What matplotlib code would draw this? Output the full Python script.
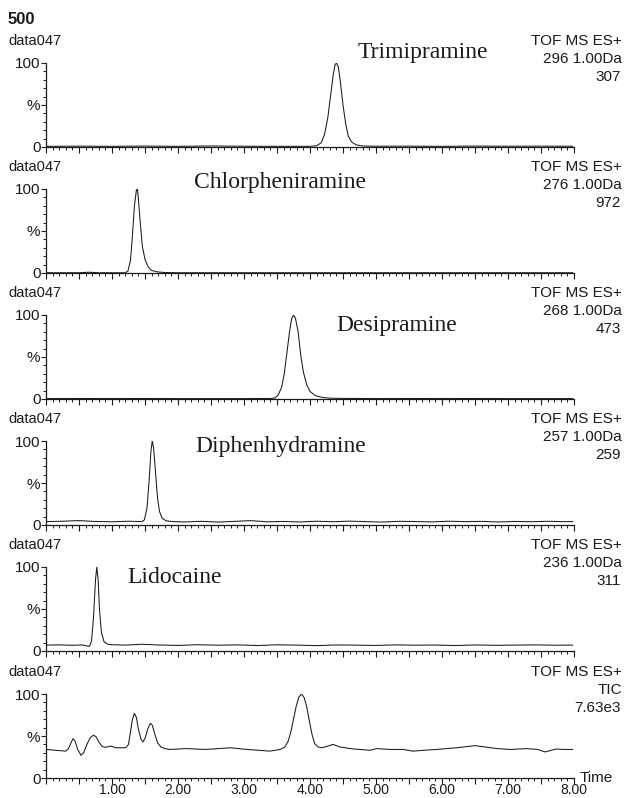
import matplotlib
matplotlib.use("Agg")
import matplotlib.pyplot as plt
from matplotlib.ticker import MultipleLocator, FixedLocator, FuncFormatter

W, H = 627, 798

# retention time (min) / relative intensity (%) for each trace
t_trimip = [0.0, 0.5, 1.0, 1.5, 2.0, 2.5, 3.0, 3.5, 4.0, 4.10, 4.17, 4.22, 4.27, 4.31, 4.35,
            4.38, 4.40, 4.43, 4.46, 4.50, 4.54, 4.58, 4.63, 4.70, 4.80, 5.0, 5.5, 6.0, 6.5,
            7.0, 7.5, 7.98]
i_trimip = [0.8, 1.0, 0.8, 1.1, 0.8, 1.2, 0.9, 0.8, 0.8, 1.5, 5, 15, 35, 60, 85,
            98, 100, 95, 78, 50, 28, 13, 6, 2.5, 1.2, 0.9, 1.0, 0.8, 1.1,
            0.9, 1.0, 0.9]

t_chlor = [0.0, 0.5, 0.65, 0.8, 1.0, 1.2, 1.24, 1.28, 1.31, 1.34, 1.37, 1.385, 1.40, 1.43,
           1.46, 1.50, 1.55, 1.60, 1.70, 1.80, 2.0, 3.0, 4.0, 5.0, 6.0, 7.0, 7.98]
i_chlor = [0.3, 0.3, 0.9, 0.3, 0.3, 0.3, 2, 15, 45, 80, 99, 100, 88, 58,
           32, 16, 7, 3, 1.2, 0.6, 0.3, 0.3, 0.3, 0.3, 0.3, 0.3, 0.3]

t_desip = [0.0, 1.0, 2.0, 3.0, 3.40, 3.47, 3.52, 3.57, 3.61, 3.65, 3.69, 3.72, 3.75, 3.78,
           3.82, 3.86, 3.90, 3.95, 4.00, 4.08, 4.18, 4.30, 4.5, 5.0, 6.0, 7.0, 7.98]
i_desip = [0.5, 0.6, 0.5, 0.5, 0.6, 1.2, 5, 14, 30, 55, 80, 95, 100, 96,
           80, 52, 32, 17, 9, 4, 2, 1, 0.7, 0.5, 0.6, 0.5, 0.5]

t_diphen = [0.0, 0.25, 0.5, 0.75, 1.0, 1.25, 1.45, 1.49, 1.53, 1.56, 1.59, 1.61, 1.63, 1.66,
            1.69, 1.72, 1.76, 1.82, 1.9, 2.1, 2.35, 2.6, 2.85, 3.1, 3.35, 3.6, 3.85, 4.1,
            4.35, 4.6, 4.85, 5.1, 5.35, 5.6, 5.85, 6.1, 6.35, 6.6, 6.85, 7.1, 7.35, 7.6,
            7.85, 7.98]
i_diphen = [4.0, 4.5, 5.2, 4.2, 3.8, 4.5, 4.0, 6, 20, 50, 88, 100, 92, 62,
            32, 16, 8, 5, 4.2, 3.6, 4.4, 3.5, 4.3, 5.2, 3.8, 4.2, 3.6, 4.5,
            3.9, 4.6, 4.0, 3.5, 4.4, 4.1, 3.7, 4.5, 4.0, 4.3, 3.6, 4.2, 3.9, 4.4,
            4.0, 4.1]

t_lido = [0.0, 0.2, 0.4, 0.55, 0.62, 0.66, 0.69, 0.72, 0.75, 0.77, 0.79, 0.81, 0.84, 0.88,
          0.94, 1.0, 1.2, 1.45, 1.7, 2.0, 2.3, 2.6, 2.9, 3.2, 3.5, 3.8, 4.1, 4.4, 4.7, 5.0,
          5.3, 5.6, 5.9, 6.2, 6.5, 6.8, 7.1, 7.4, 7.7, 7.98]
i_lido = [7.0, 7.3, 6.8, 7.2, 6.0, 5.5, 12, 40, 85, 100, 85, 50, 22, 11,
          8, 7.5, 7.0, 8.0, 7.2, 6.6, 7.5, 6.9, 7.3, 6.5, 7.4, 7.0, 6.4, 7.2, 7.0, 6.6,
          7.3, 6.9, 7.1, 6.5, 7.2, 6.8, 7.0, 7.3, 6.9, 7.0]

t_tic = [0.0, 0.15, 0.30, 0.34, 0.38, 0.41, 0.44, 0.48, 0.53, 0.57, 0.62, 0.67, 0.72, 0.76,
         0.80, 0.85, 0.90, 0.98, 1.06, 1.21, 1.25, 1.28, 1.31, 1.34, 1.37, 1.40, 1.44,
         1.47, 1.50, 1.54, 1.58, 1.61, 1.65, 1.69, 1.74, 1.80, 1.87, 2.12, 2.42, 2.79,
         3.05, 3.39, 3.55, 3.62, 3.67, 3.71, 3.75, 3.79, 3.83, 3.87, 3.91, 3.95, 3.99,
         4.03, 4.07, 4.12, 4.18, 4.27, 4.35, 4.45, 4.61, 4.75, 4.91, 5.01, 5.21, 5.41,
         5.56, 5.72, 5.92, 6.22, 6.50, 6.65, 6.83, 7.05, 7.28, 7.45, 7.56, 7.73, 7.85,
         7.98]
i_tic = [34, 33, 32, 35, 42, 47, 44, 34, 27, 30, 40, 48, 51, 49,
         43, 37.5, 36.5, 38, 36, 36, 40, 55, 70, 77, 72, 58, 46,
         43, 47, 58, 65, 63, 52, 42, 37, 35, 34, 35, 34, 36,
         34, 32, 34, 37, 44, 55, 70, 85, 96, 100, 96, 85, 68,
         52, 41, 37, 36, 38, 40, 37, 35, 34, 33, 35, 34, 34,
         32, 33, 34, 36, 38.5, 37, 35, 34, 35, 34, 31, 34.5, 34,
         34]

traces = [(t_trimip, i_trimip), (t_chlor, i_chlor), (t_desip, i_desip),
          (t_diphen, i_diphen), (t_lido, i_lido), (t_tic, i_tic)]
channel = [["296 1.00Da", "307"], ["276 1.00Da", "972"], ["268 1.00Da", "473"],
           ["257 1.00Da", "259"], ["236 1.00Da", "311"], ["TIC", "7.63e3"]]
compound = ["Trimipramine", "Chlorpheniramine", "Desipramine", "Diphenhydramine", "Lidocaine", None]
compound_pos = [(5.71, 112), (3.55, 108), (5.32, 88), (3.55, 93), (1.95, 88), None]
time_labels = ["1.00", "2.00", "3.00", "4.00", "5.00", "6.00", "7.00", "8.00"]

sans = "Liberation Sans"
serif = "Liberation Serif"
ink = "#1a1a1a"

fig = plt.figure(figsize=(W / 100, H / 100), dpi=100)

zero_y = [147, 273, 399, 525, 651, 778]   # pixel row of the 0% line
x0, x1, hgt = 46, 574, 84


def fx(px):
    return px / W


def fy(py):
    return 1 - py / H


fig.text(fx(8), fy(20), "500", fontsize=12, fontweight="bold", family=sans,
         va="center", ha="left", color=ink)

for k, (t, inten) in enumerate(traces):
    y0 = zero_y[k]
    ax = fig.add_axes([fx(x0), fy(y0), (x1 - x0) / W, hgt / H])
    ax.plot(t, inten, color=ink, lw=0.75)
    ax.set_xlim(0, 8)
    ax.set_ylim(0, 100)
    for s in ("top", "right"):
        ax.spines[s].set_visible(False)
    for s in ("left", "bottom"):
        ax.spines[s].set_linewidth(0.9)
        ax.spines[s].set_color(ink)

    ax.xaxis.set_major_locator(MultipleLocator(0.5))
    ax.xaxis.set_minor_locator(MultipleLocator(0.1))
    last = k == len(traces) - 1

    def xfmt(v, pos, last=last):
        if not last or v < 0.5 or abs(v - round(v)) > 1e-6:
            return ""
        return time_labels[int(round(v)) - 1]

    ax.xaxis.set_major_formatter(FuncFormatter(xfmt))
    ax.tick_params(axis="x", which="major", direction="out", length=4, width=0.8,
                   color=ink, pad=-0.5, labelsize=10, labelcolor=ink)
    ax.tick_params(axis="x", which="minor", direction="out", length=2.5, width=0.7, color=ink)

    ax.yaxis.set_major_locator(FixedLocator([0, 50, 100]))
    ax.yaxis.set_minor_locator(MultipleLocator(10))
    ax.set_yticklabels(["0", "%", "100"])
    ax.tick_params(axis="y", which="major", direction="out", length=3.5, width=0.8,
                   color=ink, pad=0.5, labelsize=11, labelcolor=ink)
    ax.tick_params(axis="y", which="minor", direction="out", length=2, width=0.7, color=ink)
    for lab in ax.get_xticklabels() + ax.get_yticklabels():
        lab.set_family(sans)

    top = y0 - hgt
    fig.text(fx(8), fy(top - 22), "data047", fontsize=10.5, family=sans,
             va="center", ha="left", color=ink)
    fig.text(fx(622), fy(top - 22), "TOF MS ES+", fontsize=11, family=sans,
             va="center", ha="right", color=ink)
    fig.text(fx(622), fy(top - 4), channel[k][0], fontsize=11, family=sans,
             va="center", ha="right", color=ink)
    fig.text(fx(621), fy(top + 14), channel[k][1], fontsize=11, family=sans,
             va="center", ha="right", color=ink)

    if compound[k]:
        cx, cy = compound_pos[k]
        ax.text(cx, cy, compound[k], fontsize=17, family=serif, ha="center",
                va="center", color=ink, clip_on=False)

    if last:
        fig.text(fx(580), fy(y0), "Time", fontsize=11, family=sans,
                 va="center", ha="left", color=ink)

fig.savefig("out.png", dpi=100, facecolor="white")
